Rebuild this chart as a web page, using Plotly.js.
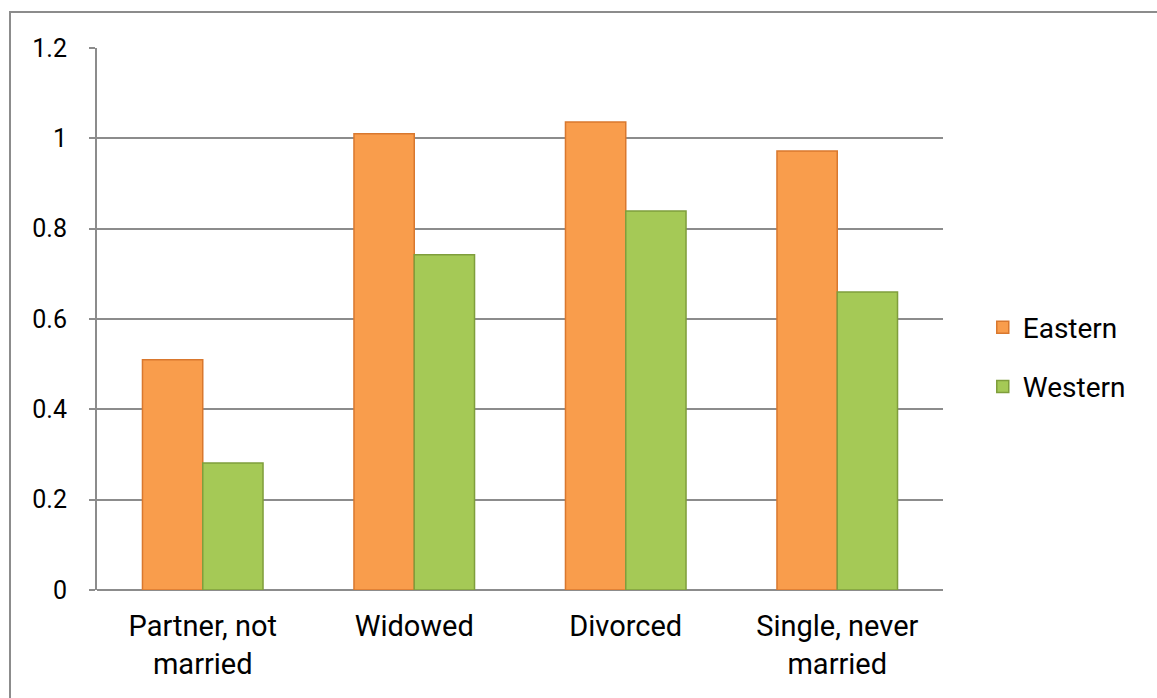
<!DOCTYPE html>
<html>
<head>
<meta charset="utf-8">
<script src="https://cdn.plot.ly/plotly-3.0.1.min.js"></script>
<style>
  html, body { margin: 0; padding: 0; background: #ffffff; overflow: hidden; }
  #wrap { position: relative; width: 1157px; height: 698px; }
  #frame { position: absolute; left: 9px; top: 11px; width: 1200px; height: 800px;
           border-left: 2px solid #8c8c8c; border-top: 2px solid #8c8c8c; pointer-events: none; }
  #chart { position: absolute; left: 0; top: 0; width: 1157px; height: 698px; }
</style>
</head>
<body>
<div id="wrap">
  <div id="chart"></div>
  <div id="frame"></div>
</div>
<script>
const categories = ["Partner, not<br>married", "Widowed", "Divorced", "Single, never<br>married"];
const seriesNames = ["Eastern", "Western"];
const easternValues = [0.51, 1.01, 1.036, 0.972];
const westernValues = [0.281, 0.742, 0.839, 0.660];
const yTickValues = [0, 0.2, 0.4, 0.6, 0.8, 1, 1.2];
const yTickLabels = ["0", "0.2", "0.4", "0.6", "0.8", "1", "1.2"];

const traces = [
  {
    type: "bar", name: seriesNames[0], x: categories, y: easternValues,
    legendgroup: "e",
    marker: { color: "#F99D4C", line: { color: "#D9782E", width: 1.5 } },
    hoverinfo: "y"
  },
  {
    type: "bar", name: seriesNames[1], x: categories, y: westernValues,
    legendgroup: "w",
    marker: { color: "#A5C956", line: { color: "#7F9E3C", width: 1.5 } },
    hoverinfo: "y"
  }
];

const layout = {
  width: 1157, height: 698,
  margin: { l: 97, r: 214, t: 48, b: 108, pad: 0 },
  paper_bgcolor: "#ffffff", plot_bgcolor: "#ffffff",
  font: { family: "Roboto, 'DejaVu Sans', sans-serif", size: 26, color: "#000000" },
  barmode: "group",
  bargap: 0.43, bargroupgap: 0,
  xaxis: {
    type: "category",
    showgrid: false, zeroline: false,
    showline: false,
    ticks: "", tickfont: { size: 29 },
    ticklabelstandoff: 16
  },
  yaxis: {
    range: [0, 1.2], tickvals: yTickValues, ticktext: yTickLabels,
    showgrid: true, gridcolor: "#8c8c8c", gridwidth: 2,
    zeroline: true, zerolinecolor: "#8c8c8c", zerolinewidth: 2,
    showline: true, linecolor: "#8c8c8c", linewidth: 2,
    ticks: "outside", ticklen: 6, tickcolor: "#8c8c8c", tickwidth: 2,
    tickfont: { size: 25 }, ticklabelstandoff: 17
  },
  legend: {
    x: 1.047, y: 0.43, xanchor: "left", yanchor: "middle",
    traceorder: "grouped", tracegroupgap: 20,
    font: { size: 28 }, itemwidth: 30,
    bgcolor: "rgba(0,0,0,0)"
  },
  showlegend: true
};

Plotly.newPlot("chart", traces, layout, { displayModeBar: false, staticPlot: true });
</script>
</body>
</html>
